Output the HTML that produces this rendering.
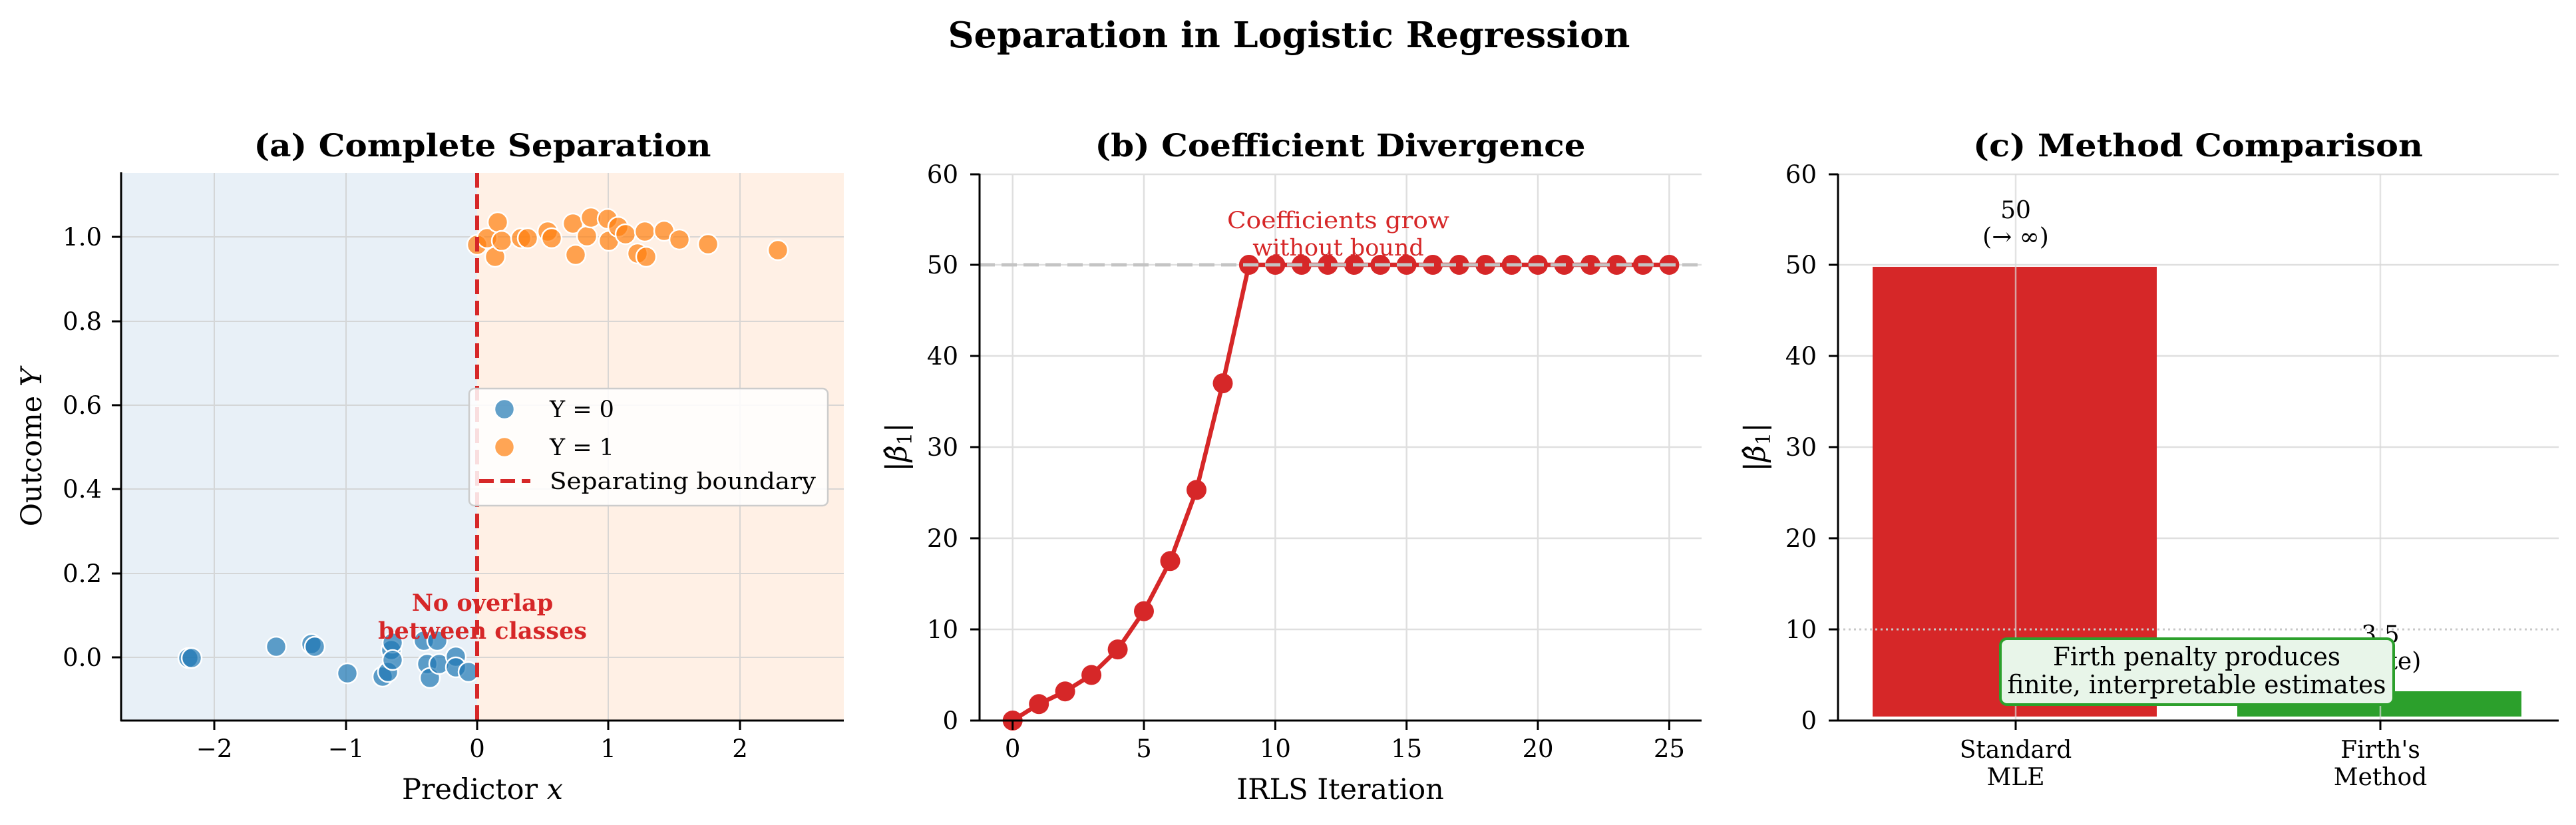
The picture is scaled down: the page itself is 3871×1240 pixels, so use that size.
<!DOCTYPE html>
<html><head><meta charset="utf-8"><style>
html,body{margin:0;padding:0;background:#fff;}
svg{display:block;font-family:"DejaVu Serif","Liberation Serif",serif;}
</style></head><body>
<svg width="3871" height="1240" viewBox="0 0 3871 1240" xmlns="http://www.w3.org/2000/svg">
<rect width="3871" height="1240" fill="#fff"/>
<text x="1937" y="71" font-size="53" font-weight="bold" text-anchor="middle" textLength="1025" lengthAdjust="spacingAndGlyphs">Separation in Logistic Regression</text>

<!-- Panel A -->
<g>
<rect x="182" y="260" width="535" height="823" fill="#e8f0f7"/>
<rect x="717" y="260" width="551" height="823" fill="#fff0e5"/>
<g stroke="#d0d0d0" stroke-width="2" opacity="0.8">
<line x1="322" y1="260" x2="322" y2="1083"/><line x1="520" y1="260" x2="520" y2="1083"/>
<line x1="914" y1="260" x2="914" y2="1083"/><line x1="1112" y1="260" x2="1112" y2="1083"/>
<line x1="182" y1="988" x2="1268" y2="988"/><line x1="182" y1="862" x2="1268" y2="862"/>
<line x1="182" y1="735" x2="1268" y2="735"/><line x1="182" y1="609" x2="1268" y2="609"/>
<line x1="182" y1="483" x2="1268" y2="483"/><line x1="182" y1="356" x2="1268" y2="356"/>
</g>
<g fill="#1f77b4" fill-opacity="0.7" stroke="#fff" stroke-width="2.5">
<circle cx="283" cy="989" r="15"/><circle cx="288" cy="989" r="15"/><circle cx="415" cy="972" r="15"/>
<circle cx="468" cy="968" r="15"/><circle cx="473" cy="972" r="15"/><circle cx="522" cy="1012" r="15"/>
<circle cx="575" cy="1017" r="15"/><circle cx="583" cy="1010" r="15"/><circle cx="588" cy="977" r="15"/>
<circle cx="590" cy="966" r="15"/><circle cx="590" cy="992" r="15"/><circle cx="637" cy="963" r="15"/>
<circle cx="642" cy="998" r="15"/><circle cx="646" cy="1019" r="15"/><circle cx="657" cy="963" r="15"/>
<circle cx="660" cy="998" r="15"/><circle cx="685" cy="987" r="15"/><circle cx="685" cy="1003" r="15"/>
<circle cx="704" cy="1010" r="15"/>
</g>
<g fill="#ff7f0e" fill-opacity="0.7" stroke="#fff" stroke-width="2.5">
<circle cx="717" cy="368" r="15"/><circle cx="732" cy="358" r="15"/><circle cx="744" cy="386" r="15"/>
<circle cx="748" cy="334" r="15"/><circle cx="754" cy="362" r="15"/><circle cx="783" cy="358" r="15"/>
<circle cx="793" cy="358" r="15"/><circle cx="823" cy="348" r="15"/><circle cx="829" cy="358" r="15"/>
<circle cx="861" cy="336" r="15"/><circle cx="865" cy="383" r="15"/><circle cx="882" cy="355" r="15"/>
<circle cx="888" cy="327" r="15"/><circle cx="913" cy="329" r="15"/><circle cx="915" cy="362" r="15"/>
<circle cx="929" cy="341" r="15"/><circle cx="940" cy="352" r="15"/><circle cx="958" cy="381" r="15"/>
<circle cx="969" cy="348" r="15"/><circle cx="971" cy="386" r="15"/><circle cx="998" cy="347" r="15"/>
<circle cx="1021" cy="360" r="15"/><circle cx="1064" cy="367" r="15"/><circle cx="1169" cy="376" r="15"/>
</g>
<line x1="717" y1="260" x2="717" y2="1083" stroke="#d62728" stroke-width="6" stroke-dasharray="22,10"/>
<text x="725" y="918" font-size="35" font-weight="bold" fill="#d62728" text-anchor="middle">No overlap</text>
<text x="725" y="960" font-size="35" font-weight="bold" fill="#d62728" text-anchor="middle">between classes</text>
<rect x="705" y="584" width="539" height="176" rx="8" fill="#fff" fill-opacity="0.85" stroke="#ccc" stroke-width="2.5"/>
<circle cx="758" cy="615" r="15" fill="#1f77b4" fill-opacity="0.7" stroke="#fff" stroke-width="2.5"/>
<circle cx="758" cy="672" r="15" fill="#ff7f0e" fill-opacity="0.7" stroke="#fff" stroke-width="2.5"/>
<line x1="720" y1="723" x2="797" y2="723" stroke="#d62728" stroke-width="6" stroke-dasharray="22,10"/>
<text x="826" y="627" font-size="35">Y = 0</text>
<text x="826" y="684" font-size="35">Y = 1</text>
<text x="826" y="735" font-size="35" textLength="400" lengthAdjust="spacingAndGlyphs">Separating boundary</text>
<g stroke="#000" stroke-width="3">
<line x1="182" y1="259" x2="182" y2="1084"/><line x1="181" y1="1083" x2="1268" y2="1083"/>
<line x1="322" y1="1083" x2="322" y2="1097"/><line x1="520" y1="1083" x2="520" y2="1097"/>
<line x1="717" y1="1083" x2="717" y2="1097"/><line x1="914" y1="1083" x2="914" y2="1097"/>
<line x1="1112" y1="1083" x2="1112" y2="1097"/>
<line x1="168" y1="988" x2="182" y2="988"/><line x1="168" y1="862" x2="182" y2="862"/>
<line x1="168" y1="735" x2="182" y2="735"/><line x1="168" y1="609" x2="182" y2="609"/>
<line x1="168" y1="483" x2="182" y2="483"/><line x1="168" y1="356" x2="182" y2="356"/>
</g>
<g font-size="37" text-anchor="end">
<text x="153" y="1001">0.0</text><text x="153" y="875">0.2</text><text x="153" y="748">0.4</text>
<text x="153" y="622">0.6</text><text x="153" y="496">0.8</text><text x="153" y="369">1.0</text>
</g>
<g font-size="37" text-anchor="middle">
<text x="322" y="1138">−2</text><text x="520" y="1138">−1</text><text x="717" y="1138">0</text>
<text x="914" y="1138">1</text><text x="1112" y="1138">2</text>
</g>
<text x="725" y="1201" font-size="43" text-anchor="middle">Predictor <tspan font-style="italic">x</tspan></text>
<text transform="translate(62,672) rotate(-90)" font-size="43" text-anchor="middle">Outcome <tspan font-style="italic">Y</tspan></text>
<text x="725" y="235" font-size="47" font-weight="bold" text-anchor="middle" textLength="687" lengthAdjust="spacingAndGlyphs">(a) Complete Separation</text>
</g>

<!-- Panel B -->
<g>
<g stroke="#d8d8d8" stroke-width="2.5" opacity="0.8">
<line x1="1521.7" y1="262" x2="1521.7" y2="1083"/><line x1="1719" y1="262" x2="1719" y2="1083"/>
<line x1="1916.4" y1="262" x2="1916.4" y2="1083"/><line x1="2113.7" y1="262" x2="2113.7" y2="1083"/>
<line x1="2311" y1="262" x2="2311" y2="1083"/><line x1="2508.4" y1="262" x2="2508.4" y2="1083"/>
<line x1="1472" y1="946" x2="2557" y2="946"/><line x1="1472" y1="809" x2="2557" y2="809"/>
<line x1="1472" y1="672" x2="2557" y2="672"/><line x1="1472" y1="535" x2="2557" y2="535"/>
<line x1="1472" y1="398" x2="2557" y2="398"/><line x1="1472" y1="262" x2="2557" y2="262"/>
</g>
<polyline fill="none" stroke="#d62728" stroke-width="6.5" stroke-linejoin="round" points="1521.7,1083 1561.2,1058.3 1600.6,1039.2 1640.1,1014.5 1679.6,976.1 1719,918.6 1758.5,843.3 1798,736.4 1837.5,576.1 1876.9,398 1916.4,398 1955.9,398 1995.3,398 2034.8,398 2074.3,398 2113.7,398 2153.2,398 2192.7,398 2232.1,398 2271.6,398 2311,398 2350.5,398 2390,398 2429.4,398 2468.9,398 2508.4,398"/>
<g fill="#d62728">
<circle cx="1521.7" cy="1083" r="15"/><circle cx="1561.2" cy="1058.3" r="15"/><circle cx="1600.6" cy="1039.2" r="15"/>
<circle cx="1640.1" cy="1014.5" r="15"/><circle cx="1679.6" cy="976.1" r="15"/><circle cx="1719" cy="918.6" r="15"/>
<circle cx="1758.5" cy="843.3" r="15"/><circle cx="1798" cy="736.4" r="15"/><circle cx="1837.5" cy="576.1" r="15"/>
<circle cx="1876.9" cy="398" r="15"/><circle cx="1916.4" cy="398" r="15"/><circle cx="1955.9" cy="398" r="15"/>
<circle cx="1995.3" cy="398" r="15"/><circle cx="2034.8" cy="398" r="15"/><circle cx="2074.3" cy="398" r="15"/>
<circle cx="2113.7" cy="398" r="15"/><circle cx="2153.2" cy="398" r="15"/><circle cx="2192.7" cy="398" r="15"/>
<circle cx="2232.1" cy="398" r="15"/><circle cx="2271.6" cy="398" r="15"/><circle cx="2311" cy="398" r="15"/>
<circle cx="2350.5" cy="398" r="15"/><circle cx="2390" cy="398" r="15"/><circle cx="2429.4" cy="398" r="15"/>
<circle cx="2468.9" cy="398" r="15"/><circle cx="2508.4" cy="398" r="15"/>
</g>
<line x1="1472" y1="398" x2="2557" y2="398" stroke="#c4c4c4" stroke-width="5" stroke-dasharray="23,10"/>
<text x="2011" y="343" font-size="35" fill="#d62728" text-anchor="middle" textLength="334" lengthAdjust="spacingAndGlyphs">Coefficients grow</text>
<text x="2011" y="384" font-size="35" fill="#d62728" text-anchor="middle">without bound</text>
<g stroke="#000" stroke-width="3">
<line x1="1472" y1="261" x2="1472" y2="1084"/><line x1="1471" y1="1083" x2="2557" y2="1083"/>
<line x1="1521.7" y1="1083" x2="1521.7" y2="1097"/><line x1="1719" y1="1083" x2="1719" y2="1097"/>
<line x1="1916.4" y1="1083" x2="1916.4" y2="1097"/><line x1="2113.7" y1="1083" x2="2113.7" y2="1097"/>
<line x1="2311" y1="1083" x2="2311" y2="1097"/><line x1="2508.4" y1="1083" x2="2508.4" y2="1097"/>
<line x1="1458" y1="1083" x2="1472" y2="1083"/><line x1="1458" y1="946" x2="1472" y2="946"/>
<line x1="1458" y1="809" x2="1472" y2="809"/><line x1="1458" y1="672" x2="1472" y2="672"/>
<line x1="1458" y1="535" x2="1472" y2="535"/><line x1="1458" y1="398" x2="1472" y2="398"/>
<line x1="1458" y1="262" x2="1472" y2="262"/>
</g>
<g font-size="37" text-anchor="end">
<text x="1440" y="1096">0</text><text x="1440" y="959">10</text><text x="1440" y="822">20</text>
<text x="1440" y="685">30</text><text x="1440" y="548">40</text><text x="1440" y="411">50</text><text x="1440" y="275">60</text>
</g>
<g font-size="37" text-anchor="middle">
<text x="1521.7" y="1138">0</text><text x="1719" y="1138">5</text><text x="1916.4" y="1138">10</text>
<text x="2113.7" y="1138">15</text><text x="2311" y="1138">20</text><text x="2508.4" y="1138">25</text>
</g>
<text x="2014" y="1201" font-size="43" text-anchor="middle">IRLS Iteration</text>
<text transform="translate(1362,672) rotate(-90)" font-size="43" text-anchor="middle">|<tspan font-style="italic">β̂</tspan><tspan font-size="30" dy="8">1</tspan><tspan dy="-8">|</tspan></text>
<text x="2014" y="235" font-size="47" font-weight="bold" text-anchor="middle" textLength="737" lengthAdjust="spacingAndGlyphs">(b) Coefficient Divergence</text>
</g>

<!-- Panel C -->
<g>
<g stroke="#d8d8d8" stroke-width="2.5" opacity="0.8">
<line x1="2762" y1="809" x2="3845" y2="809"/><line x1="2762" y1="672" x2="3845" y2="672"/>
<line x1="2762" y1="535" x2="3845" y2="535"/><line x1="2762" y1="398" x2="3845" y2="398"/>
<line x1="2762" y1="262" x2="3845" y2="262"/>
</g>
<rect x="2814" y="401" width="427" height="676" fill="#d62728"/>
<rect x="3362" y="1039" width="427" height="38" fill="#2ca02c"/>
<g stroke="#d8d8d8" stroke-width="2.5" opacity="0.7">
<line x1="3029" y1="262" x2="3029" y2="1083"/><line x1="3577" y1="262" x2="3577" y2="1083"/>
</g>
<line x1="2762" y1="946" x2="3845" y2="946" stroke="#c8c8c8" stroke-width="3" stroke-dasharray="3,5"/>
<text x="3029" y="328" font-size="36" text-anchor="middle">50</text>
<text x="3029" y="368" font-size="36" text-anchor="middle">(→ ∞)</text>
<text x="3577" y="966" font-size="36" text-anchor="middle">3.5</text>
<text x="3577" y="1006" font-size="36" text-anchor="middle">(finite)</text>
<rect x="3006" y="960" width="591" height="99" rx="10" fill="#e8f5e9" stroke="#2ca02c" stroke-width="4"/>
<text x="3301" y="1000" font-size="38" text-anchor="middle" textLength="432" lengthAdjust="spacingAndGlyphs">Firth penalty produces</text>
<text x="3301" y="1042" font-size="38" text-anchor="middle" textLength="569" lengthAdjust="spacingAndGlyphs">finite, interpretable estimates</text>
<g stroke="#000" stroke-width="3">
<line x1="2762" y1="261" x2="2762" y2="1084"/><line x1="2761" y1="1083" x2="3845" y2="1083"/>
<line x1="3029" y1="1083" x2="3029" y2="1097"/><line x1="3577" y1="1083" x2="3577" y2="1097"/>
<line x1="2748" y1="1083" x2="2762" y2="1083"/><line x1="2748" y1="946" x2="2762" y2="946"/>
<line x1="2748" y1="809" x2="2762" y2="809"/><line x1="2748" y1="672" x2="2762" y2="672"/>
<line x1="2748" y1="535" x2="2762" y2="535"/><line x1="2748" y1="398" x2="2762" y2="398"/>
<line x1="2748" y1="262" x2="2762" y2="262"/>
</g>
<g font-size="37" text-anchor="end">
<text x="2730" y="1096">0</text><text x="2730" y="959">10</text><text x="2730" y="822">20</text>
<text x="2730" y="685">30</text><text x="2730" y="548">40</text><text x="2730" y="411">50</text><text x="2730" y="275">60</text>
</g>
<g font-size="36" text-anchor="middle">
<text x="3029" y="1139">Standard</text><text x="3029" y="1180">MLE</text>
<text x="3577" y="1139">Firth's</text><text x="3577" y="1180">Method</text>
</g>
<text transform="translate(2652,672) rotate(-90)" font-size="43" text-anchor="middle">|<tspan font-style="italic">β̂</tspan><tspan font-size="30" dy="8">1</tspan><tspan dy="-8">|</tspan></text>
<text x="3303" y="235" font-size="47" font-weight="bold" text-anchor="middle" textLength="676" lengthAdjust="spacingAndGlyphs">(c) Method Comparison</text>
</g>
</svg>
</body></html>
